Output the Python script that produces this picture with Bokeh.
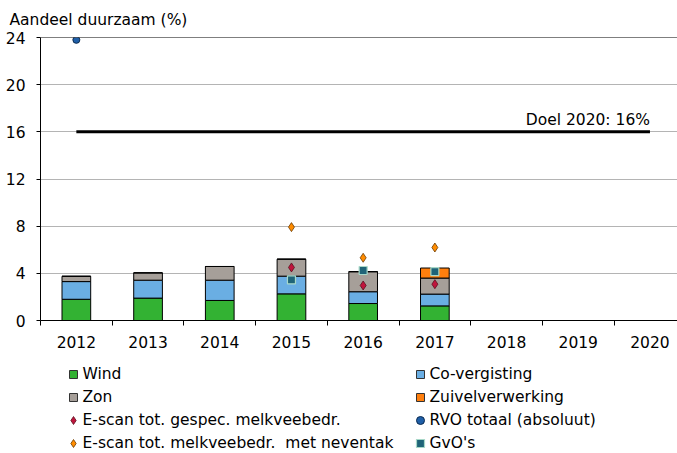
from bokeh.plotting import figure
from bokeh.layouts import column
from bokeh.models import (Range1d, FixedTicker, Legend, LegendItem, Label,
                          Span, ColumnDataSource)
from bokeh.embed import file_html
from bokeh.resources import INLINE

# ---------------- data ----------------
years = ["2012", "2013", "2014", "2015", "2016", "2017", "2018", "2019", "2020"]
wind = [1.80, 1.90, 1.70, 2.26, 1.44, 1.24, None, None, None]
covergisting = [1.50, 1.52, 1.72, 1.50, 1.00, 1.00, None, None, None]
zon = [0.45, 0.62, 1.16, 1.44, 1.70, 1.36, None, None, None]
zuivelverwerking = [0.0, 0.0, 0.0, 0.0, 0.0, 0.85, None, None, None]
escan_gespec = [None, None, None, 4.50, 2.97, 3.08, None, None, None]
escan_neventak = [None, None, None, 7.92, 5.32, 6.19, None, None, None]
rvo_totaal = [23.8, None, None, None, None, None, None, None, None]
gvo = [None, None, None, 3.45, 4.24, 4.15, None, None, None]
doel_2020 = 16
doel_label = "Doel 2020: 16%"
y_ticks = [0, 4, 8, 12, 16, 20, 24]

FONT = "DejaVu Sans"
FS = "15.5px"

xc = [i + 0.5 for i in range(len(years))]

W = 677
H_MAIN = 355
H_LEG = 98
FRAME_LEFT = 40

# ---------------- main figure ----------------
p = figure(width=W, height=H_MAIN, output_backend="svg", toolbar_location=None,
           x_range=Range1d(0, 8.884), y_range=Range1d(0, 24),
           min_border_left=FRAME_LEFT, min_border_right=0, min_border_top=37,
           min_border_bottom=H_MAIN - 320)
p.outline_line_color = None
p.xgrid.grid_line_color = None
p.ygrid.grid_line_color = "#b4b4b4"
p.ygrid.ticker = FixedTicker(ticks=y_ticks)

# y title
p.title.text = "Aandeel duurzaam (%)"
p.title.align = "left"
p.title.vertical_align = "top"
p.title.offset = -31
p.title.standoff = 14
p.title.text_font = FONT
p.title.text_font_size = FS
p.title.text_font_style = "normal"
p.title.text_color = "black"

# axes
p.yaxis.ticker = FixedTicker(ticks=y_ticks)
p.yaxis.minor_tick_line_color = None
p.yaxis.major_tick_out = 4
p.yaxis.major_tick_in = 0
p.yaxis.major_label_standoff = 11
p.yaxis.major_label_text_font = FONT
p.yaxis.major_label_text_font_size = FS
p.yaxis.major_label_text_color = "black"
p.yaxis.axis_line_color = "black"

p.xaxis.ticker = FixedTicker(ticks=xc, minor_ticks=list(range(len(years) + 1)))
p.xaxis.major_label_overrides = {x: y for x, y in zip(xc, years)}
p.xaxis.major_tick_out = 0
p.xaxis.major_tick_in = 0
p.xaxis.minor_tick_out = 5
p.xaxis.minor_tick_in = 0
p.xaxis.minor_tick_line_color = "black"
p.xaxis.major_label_standoff = 10
p.xaxis.major_label_text_font = FONT
p.xaxis.major_label_text_font_size = FS
p.xaxis.major_label_text_color = "black"
p.xaxis.axis_line_color = "black"

# top frame line
p.add_layout(Span(location=y_ticks[-1], dimension="width", line_color="black",
                  line_width=1))

# ---------------- stacked bars ----------------
idx = [i for i, w in enumerate(wind) if w is not None]
bar_src = ColumnDataSource(dict(
    x=[xc[i] for i in idx],
    wind=[wind[i] for i in idx],
    cov=[covergisting[i] for i in idx],
    zon=[zon[i] for i in idx],
    zuivel=[zuivelverwerking[i] for i in idx],
))
bar_colors = ["#33b233", "#6aaee3", "#a69f99", "#ff7f0e"]
bars = p.vbar_stack(["wind", "cov", "zon", "zuivel"], x="x", width=0.4,
                    color=bar_colors, line_color="black", line_width=1,
                    source=bar_src)
for r in bars:
    r.glyph.line_color = "black"

# ---------------- doel line ----------------
p.line(x=[xc[0], xc[-1]], y=[doel_2020, doel_2020], line_color="black",
       line_width=3)
p.add_layout(Label(x=xc[-1], y=doel_2020, text=doel_label, text_align="right",
                   text_baseline="alphabetic", y_offset=12, text_font=FONT,
                   text_font_size=FS, text_color="black"))


# ---------------- markers ----------------
def pts(vals):
    return ([xc[i] for i, v in enumerate(vals) if v is not None],
            [v for v in vals if v is not None])


MK = dict(
    gespec=dict(marker="diamond", fill_color="#c0143c", line_color="#5a1020", line_width=0.8),
    neven=dict(marker="diamond", fill_color="#ff8c00", line_color="#6b3a00", line_width=0.8),
    rvo=dict(marker="circle", fill_color="#1f5fa8", line_color="#0a2a50", line_width=1),
    gvo=dict(marker="square", fill_color="#1f6478", line_color="#a8d8c8", line_width=1.2),
)
x1, y1 = pts(escan_gespec)
p.scatter(x1, y1, size=9, **MK["gespec"])
x2, y2 = pts(escan_neventak)
p.scatter(x2, y2, size=9, **MK["neven"])
x3, y3 = pts(rvo_totaal)
p.scatter(x3, y3, size=7, **MK["rvo"])
x4, y4 = pts(gvo)
p.scatter(x4, y4, size=8, **MK["gvo"])

# ---------------- legend figure ----------------
lg = figure(width=W, height=H_LEG, output_backend="svg", toolbar_location=None,
            x_axis_location=None, y_axis_location=None,
            x_range=Range1d(0, 1), y_range=Range1d(0, 1),
            min_border_left=FRAME_LEFT, min_border_right=0, min_border_top=0,
            min_border_bottom=0)
lg.outline_line_color = None
lg.grid.visible = False

# legend-only swatches: one point outside the visible range
sw = [lg.scatter([-10], [-10], marker="square", fill_color=c,
                 line_color="#333333", line_width=1) for c in bar_colors]
m_gespec = lg.scatter([-10], [-10], **MK["gespec"])
m_neven = lg.scatter([-10], [-10], **MK["neven"])
m_rvo = lg.scatter([-10], [-10], **MK["rvo"])
m_gvo = lg.scatter([-10], [-10], **MK["gvo"])

G = 20
LEG_TOP = H_MAIN  # page y of legend figure


def add_leg(label, renderer, cx, cy):
    leg = Legend(items=[LegendItem(label=label, renderers=[renderer])],
                 location=(cx - G / 2 - FRAME_LEFT,
                           H_LEG - (cy - LEG_TOP) - G / 2),
                 glyph_width=G, glyph_height=G, label_height=G,
                 label_standoff=0, padding=0, margin=0, spacing=0,
                 border_line_color=None, background_fill_alpha=0,
                 label_text_font=FONT, label_text_font_size=FS,
                 label_text_color="black")
    lg.add_layout(leg)


c1, c2 = 72.5, 419.5
rows = [374, 397, 420, 443]
add_leg("Wind", sw[0], c1, rows[0])
add_leg("Co-vergisting", sw[1], c2, rows[0])
add_leg("Zon", sw[2], c1, rows[1])
add_leg("Zuivelverwerking", sw[3], c2, rows[1])
add_leg("E-scan tot. gespec. melkveebedr.", m_gespec, c1, rows[2])
add_leg("RVO totaal (absoluut)", m_rvo, c2, rows[2])
add_leg("E-scan tot. melkveebedr. \u00a0met neventak", m_neven, c1, rows[3])
add_leg("GvO's", m_gvo, c2, rows[3])

layout = column(p, lg, spacing=0)
open("out.html", "w").write(file_html(layout, INLINE))
